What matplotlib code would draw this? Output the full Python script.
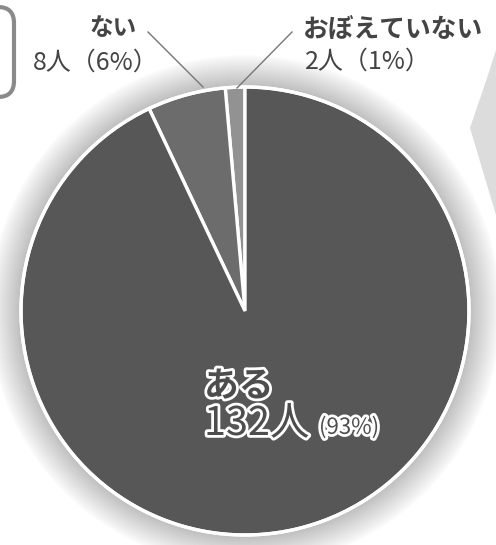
import matplotlib.pyplot as plt
import matplotlib.patheffects as pe
from matplotlib.patches import Circle, FancyBboxPatch, Polygon

plt.rcParams['font.family'] = ['Noto Sans CJK JP', 'DejaVu Sans']

# data (counter-clockwise from 12 o'clock)
labels = ["おぼえていない", "ない", "ある"]
counts = [2, 8, 132]
pcts = [1, 6, 93]
colors = ["#929292", "#6c6c6c", "#575757"]

W, H = 496, 545
fig = plt.figure(figsize=(W / 100, H / 100), dpi=100)
ax = fig.add_axes([0, 0, 1, 1])

cx, cy, r = 245, H - 311, 224

# soft shadow around the pie
for k in range(32, 0, -1):
    ax.add_patch(Circle((cx, cy), r + k, color="#505050", alpha=0.011, lw=0, zorder=1))

# bits of the page around the chart
ax.add_patch(FancyBboxPatch((-60, H - 97), 74, 90, boxstyle="round,pad=0,rounding_size=16",
                            fc="none", ec="#8a8a8a", lw=3, zorder=2))
ax.add_patch(Polygon([(496, H - 50), (488, H - 75), (470, H - 128), (496, H - 215)],
                     closed=True, fc="#dcdcdc", ec="none", zorder=1))

wedges, _ = ax.pie(counts, colors=colors, startangle=90, counterclock=True,
                   center=(cx, cy), radius=r, frame=True,
                   wedgeprops=dict(edgecolor="white", linewidth=2.4))
for w in wedges:
    w.set_zorder(3)
ax.add_patch(Circle((cx, cy), r, fc="none", ec="white", lw=2.4, zorder=4))
ax.set_xlim(0, W)
ax.set_ylim(0, H)
ax.set_aspect("equal")
ax.axis("off")

# leader lines
ax.plot([148, 203], [H - 32, H - 87], color="#777777", lw=1, zorder=5)
ax.plot([292, 237], [H - 32, H - 88], color="#777777", lw=1, zorder=5)

tc = "#444444"
ax.text(137, H - 28, labels[1], ha="right", va="center", fontsize=17, fontweight="bold", color=tc)
ax.text(33, H - 63, f"{counts[1]}人（{pcts[1]}%）", ha="left", va="center", fontsize=18, color=tc)
ax.text(303, H - 30, labels[0], ha="left", va="center", fontsize=18.5, fontweight="bold", color=tc)
ax.text(305, H - 62, f"{counts[0]}人（{pcts[0]}%）", ha="left", va="center", fontsize=18, color=tc)

outline = [pe.Stroke(linewidth=4, foreground="white"), pe.Normal()]
ax.text(204, H - 386, labels[2], ha="left", va="center", fontsize=25, fontweight="bold",
        color="#4d4d4d", path_effects=outline, zorder=6)
ax.text(204, H - 424, f"{counts[2]}人", ha="left", va="center", fontsize=28.5,
        color="#4d4d4d", path_effects=outline, zorder=6)
ax.text(319, H - 427, f"({pcts[2]}%)", ha="left", va="center", fontsize=16,
        color="#4d4d4d", path_effects=outline, zorder=6)

fig.savefig("out.png", dpi=100)
